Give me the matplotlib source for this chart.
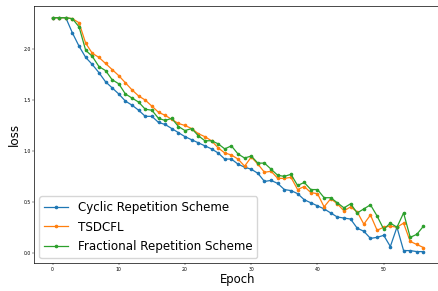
import numpy as np
import matplotlib
matplotlib.use('Agg')
import matplotlib.pyplot as plt

epochs = list(range(57))

cyclic = [2.31, 2.31, 2.31, 2.16, 2.03, 1.92, 1.85, 1.77, 1.68, 1.62,
          1.56, 1.49, 1.45, 1.40, 1.34, 1.34, 1.28, 1.26, 1.22, 1.18,
          1.14, 1.11, 1.08, 1.05, 1.02, 0.98, 0.92, 0.92, 0.87, 0.84,
          0.82, 0.78, 0.70, 0.71, 0.68, 0.62, 0.61, 0.58, 0.52, 0.49,
          0.46, 0.43, 0.39, 0.35, 0.34, 0.33, 0.24, 0.21, 0.14, 0.15,
          0.17, 0.06, 0.25, 0.02, 0.02, 0.01, 0.01]

tsdcfl = [2.31, 2.31, 2.31, 2.30, 2.26, 2.06, 1.96, 1.92, 1.86, 1.80,
          1.74, 1.67, 1.60, 1.54, 1.50, 1.44, 1.38, 1.35, 1.31, 1.27,
          1.25, 1.22, 1.17, 1.14, 1.10, 1.03, 0.98, 0.96, 0.92, 0.85,
          0.94, 0.87, 0.79, 0.80, 0.73, 0.73, 0.74, 0.62, 0.65, 0.59,
          0.58, 0.45, 0.53, 0.48, 0.41, 0.45, 0.40, 0.28, 0.37, 0.22,
          0.25, 0.26, 0.25, 0.29, 0.11, 0.08, 0.05]

fractional = [2.31, 2.31, 2.31, 2.30, 2.22, 1.99, 1.93, 1.83, 1.79, 1.70,
              1.66, 1.56, 1.52, 1.48, 1.41, 1.40, 1.32, 1.30, 1.32, 1.24,
              1.20, 1.22, 1.15, 1.10, 1.10, 1.07, 1.02, 1.05, 0.97, 0.93,
              0.95, 0.88, 0.88, 0.82, 0.76, 0.75, 0.77, 0.66, 0.69, 0.62,
              0.62, 0.54, 0.54, 0.49, 0.44, 0.48, 0.39, 0.43, 0.47, 0.36,
              0.23, 0.29, 0.25, 0.39, 0.15, 0.18, 0.26]

labels = ['Cyclic Repetition Scheme', 'TSDCFL', 'Fractional Repetition Scheme']

fig = plt.figure(figsize=(4.38, 2.91), dpi=100)
ax = fig.add_axes([34 / 438, 27.7 / 291, 408 / 438, 257.3 / 291])

for series, lab in zip([cyclic, tsdcfl, fractional], labels):
    ax.plot(epochs, series, marker='.', markersize=3.2, linewidth=0.9, label=lab)

ax.set_xticks([0, 10, 20, 30, 40, 50])
ax.set_yticks([0.0, 0.5, 1.0, 1.5, 2.0])
ax.tick_params(labelsize=3.3, length=1.2, width=0.3, pad=1.2)
for s in ax.spines.values():
    s.set_linewidth(0.5)

ax.set_xlabel('Epoch', fontsize=8.4, labelpad=1)
ax.set_ylabel('loss', fontsize=8.6, labelpad=2)
ax.legend(loc='lower left', fontsize=8.6, labelspacing=0.55, borderaxespad=0.45)

fig.savefig('out.png', dpi=100)
